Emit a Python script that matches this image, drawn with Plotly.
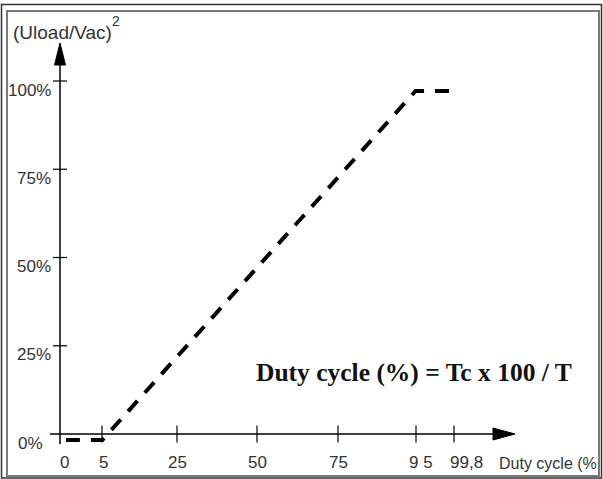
import numpy as np
import plotly.graph_objects as go

# ---------------- data ----------------
duty_ticks = [0, 5, 25, 50, 75, 95, 99.8]
duty_tick_labels = ["0", "5", "25", "50", "75", "9 5", "99,8"]
# schematic (non-linear) scale of the drawing: axis position of each duty tick
duty_scale_pos = [0, 42, 117, 197, 278, 356, 394]

level_ticks = [0, 25, 50, 75, 100]
level_tick_labels = ["0%", "25%", "50%", "75%", "100%"]

# dashed characteristic (duty cycle %, (Uload/Vac)^2 %)
line_duty = [0.7, 5.1, 94.9, 100.2]
line_level = [-1.7, -1.7, 97.2, 97.2]

formula_text = "Duty cycle (%) = Tc x 100 / T"
y_title = "(Uload/Vac)"
y_title_sup = "2"
x_title = "Duty cycle (%"

# ---------------- helpers ----------------
def to_axis(d):
    d = np.asarray(d, dtype=float)
    out = np.interp(d, duty_ticks, duty_scale_pos)
    slope = (duty_scale_pos[-1] - duty_scale_pos[-2]) / (duty_ticks[-1] - duty_ticks[-2])
    hi = d > duty_ticks[-1]
    out[hi] = duty_scale_pos[-1] + (d[hi] - duty_ticks[-1]) * slope
    return out

W, H = 603, 479
X0_PX = 60          # pixel of axis origin
Y0_PX = 434
PX_PER_PCT = 3.53

xr = [-X0_PX, W - X0_PX]
yr = [-(H - Y0_PX) / PX_PER_PCT, Y0_PX / PX_PER_PCT]

def vy(px):  # pixel offset (up) -> y units
    return px / PX_PER_PCT

fig = go.Figure()

# dashed characteristic
fig.add_trace(go.Scatter(
    x=to_axis(line_duty), y=line_level, mode="lines",
    line=dict(color="black", width=4, dash="14px,11px"),
    hoverinfo="skip", showlegend=False))

# tick marks
tick_x = to_axis(duty_ticks[1:])
fig.add_trace(go.Scatter(
    x=tick_x, y=[0] * len(tick_x), mode="markers",
    marker=dict(symbol="line-ns", size=12, line=dict(color="black", width=1.2)),
    hoverinfo="skip", showlegend=False))
fig.add_trace(go.Scatter(
    x=[0] * (len(level_ticks) - 1), y=level_ticks[1:], mode="markers",
    marker=dict(symbol="line-ew", size=10, line=dict(color="black", width=1.2)),
    hoverinfo="skip", showlegend=False))

shapes = []
# axis lines
shapes.append(dict(type="line", xref="x", yref="y", x0=-10, x1=436, y0=0, y1=0,
                   line=dict(color="black", width=1.5)))
shapes.append(dict(type="line", xref="x", yref="y", x0=0, x1=0, y0=vy(-10), y1=vy(370),
                   line=dict(color="black", width=1.5)))
# arrowheads
ax_tip, ax_base, ah = 455, 433, vy(6)
shapes.append(dict(type="path", xref="x", yref="y",
                   path=f"M {ax_base},{ah} L {ax_tip},0 L {ax_base},{-ah} Z",
                   fillcolor="black", line=dict(color="black", width=1)))
ay_tip, ay_base = vy(391), vy(369)
shapes.append(dict(type="path", xref="x", yref="y",
                   path=f"M -5.5,{ay_base} L 0,{ay_tip} L 5.5,{ay_base} Z",
                   fillcolor="black", line=dict(color="black", width=1)))
# frame
def px2p(x, y):
    return x / W, 1 - y / H
ox0, oy0 = px2p(1.5, 4.5)
ox1, oy1 = px2p(601.5, 478)
shapes.append(dict(type="rect", xref="paper", yref="paper", x0=ox0, y0=oy1, x1=ox1, y1=oy0,
                   line=dict(color="#333333", width=1.5)))
ix0, iy0 = px2p(7, 11)
ix1, iy1 = px2p(599, 476)
shapes.append(dict(type="rect", xref="paper", yref="paper", x0=ix0, y0=iy1, x1=ix1, y1=iy0,
                   line=dict(color="#7a7a7a", width=2)))

label_font = dict(family="Liberation Sans, Arial, sans-serif", size=17, color="#333333")
annotations = []
x_nudge = [4, 1, 0, 0, 0, 5, 12]
for pos, lab, dx in zip(to_axis(duty_ticks), duty_tick_labels, x_nudge):
    annotations.append(dict(x=pos, y=0, xref="x", yref="y", text=lab, showarrow=False,
                            xanchor="center", yanchor="middle", xshift=dx, yshift=-28,
                            font=label_font))
y_nudge = [-8, 0, 0, 0, 0]
for lv, lab, dx in zip(level_ticks, level_tick_labels, y_nudge):
    annotations.append(dict(x=0, y=lv, xref="x", yref="y", text=lab, showarrow=False,
                            xanchor="right", yanchor="middle", xshift=-7 + dx, yshift=-9,
                            font=label_font))
# axis titles
annotations.append(dict(x=11 / W, y=1 - 32 / H, xref="paper", yref="paper", text=y_title,
                        showarrow=False, xanchor="left", yanchor="middle",
                        font=dict(family="Liberation Sans, Arial, sans-serif", size=19,
                                  color="#333333")))
annotations.append(dict(x=110 / W, y=1 - 21 / H, xref="paper", yref="paper", text=y_title_sup,
                        showarrow=False, xanchor="left", yanchor="middle",
                        font=dict(family="Liberation Sans, Arial, sans-serif", size=14,
                                  color="#333333")))
annotations.append(dict(x=497 / W, y=1 - 463 / H, xref="paper", yref="paper", text=x_title,
                        showarrow=False, xanchor="left", yanchor="middle",
                        font=dict(family="Liberation Sans, Arial, sans-serif", size=16,
                                  color="#333333")))
# formula
annotations.append(dict(x=254 / W, y=1 - 372 / H, xref="paper", yref="paper", text=f"<b>{formula_text}</b>",
                        showarrow=False, xanchor="left", yanchor="middle",
                        font=dict(family="Liberation Serif, Times New Roman, serif", size=25.5,
                                  color="#111111")))

fig.update_layout(
    width=W, height=H,
    margin=dict(l=0, r=0, t=0, b=0),
    paper_bgcolor="white", plot_bgcolor="white",
    xaxis=dict(range=xr, visible=False, fixedrange=True),
    yaxis=dict(range=yr, visible=False, fixedrange=True),
    shapes=shapes, annotations=annotations,
    showlegend=False,
)

fig.write_html("out.html", config={"displayModeBar": False},
               post_script="document.body.style.margin='0';document.body.style.overflow='hidden';")
